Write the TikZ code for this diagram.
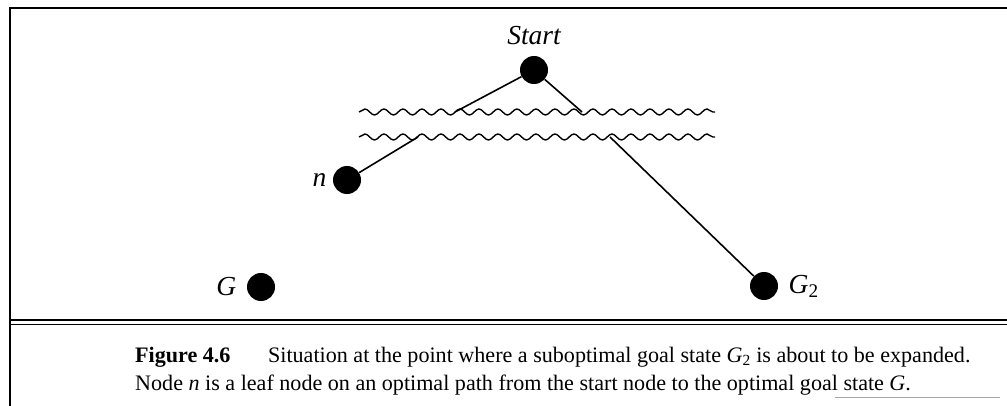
\documentclass[tikz,border=0pt]{standalone}
\usepackage{fontspec}
\setmainfont{Liberation Serif}
\usetikzlibrary{decorations.pathmorphing}

\begin{document}
\begin{tikzpicture}[
  x=1pt, y=-1pt,
  state/.style={
    circle,
    fill=black,
    inner sep=0pt,
    minimum size=28pt
  },
  tag/.style={font=\fontsize{27.5}{30}\selectfont\itshape},
  cut/.style={
    line width=1.4pt,
    decorate,
    decoration={snake,segment length=19pt,amplitude=3pt}
  },
  arc/.style={line width=1.6pt},
  frame/.style={line width=1.1pt}
]
  \useasboundingbox (0,0) rectangle (1007,406);

  % frame and rule under the figure
  \draw[frame] (10,406) -- (10,8) -- (1007,8);
  \draw[frame] (10,320) -- (1007,320);
  \draw[frame] (10,324.5) -- (1007,324.5);
  \draw[black!35,line width=0.8pt] (835,397) -- (1000,397);

  % search tree
  \node[state,label={[tag,label distance=7pt]above:Start}] (start) at (534,70) {};
  \node[state,label={[tag,label distance=3pt]left:n}] (n) at (347,180) {};
  \node[state,label={[tag,label distance=7pt]left:G}] (goal) at (261,287) {};
  \node[state,label={[tag,label distance=7pt]right:{G\textsubscript{\upshape 2}}}] (goaltwo) at (764,286) {};

  % the two wavy cuts
  \coordinate (upperleft) at (359,112);
  \coordinate (upperright) at (715,112);
  \coordinate (lowerleft) at (359,137);
  \coordinate (lowerright) at (715,137);
  \draw[cut] (upperleft) -- (upperright);
  \draw[cut] (lowerleft) -- (lowerright);

  \coordinate (cuta) at (455,112);
  \coordinate (cutb) at (418,137);
  \coordinate (cutc) at (582,112);
  \coordinate (cutd) at (610,137);

  \draw[arc] (start) -- (cuta);
  \draw[arc] (cutb) -- (n);
  \draw[arc] (start) -- (cutc);
  \draw[arc] (cutd) -- (goaltwo);

  % caption
  \node[anchor=base west,inner sep=0pt,font=\fontsize{22.1}{27}\selectfont] (captop) at (135,362)
    {\textbf{Figure 4.6}\hspace{1.7em}Situation at the point where a suboptimal goal state \textit{G}\textsubscript{2} is about to be expanded.};
  \node[anchor=base west,inner sep=0pt,font=\fontsize{22.1}{27}\selectfont] (capbottom) at (135,390)
    {Node \textit{n} is a leaf node on an optimal path from the start node to the optimal goal state \textit{G}.};
\end{tikzpicture}
\end{document}
